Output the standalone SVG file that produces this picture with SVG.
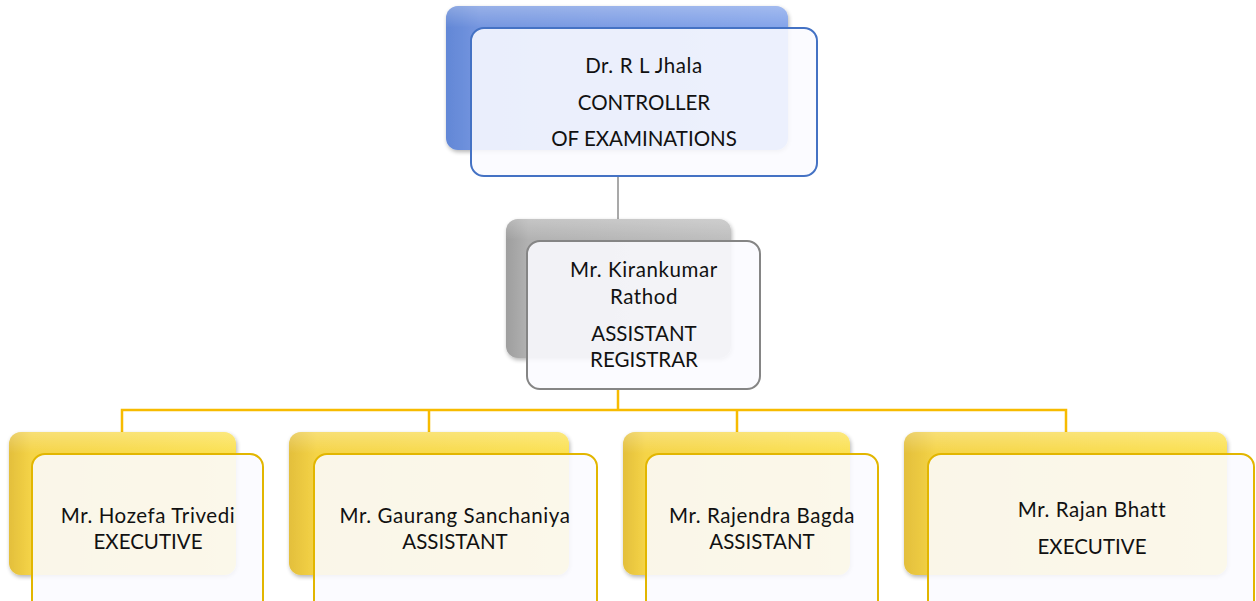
<svg xmlns="http://www.w3.org/2000/svg" width="1256" height="601" viewBox="0 0 1256 601">
<defs>
<linearGradient id="gBlue" x1="0" y1="0" x2="1" y2="0">
<stop offset="0" stop-color="#6287d6"/><stop offset="0.1" stop-color="#7596e0"/><stop offset="1" stop-color="#84a4ea"/>
</linearGradient>
<linearGradient id="gGray" x1="0" y1="0" x2="1" y2="0">
<stop offset="0" stop-color="#9e9e9e"/><stop offset="0.1" stop-color="#b2b2b2"/><stop offset="1" stop-color="#bebebe"/>
</linearGradient>
<linearGradient id="gYel" x1="0" y1="0" x2="1" y2="0">
<stop offset="0" stop-color="#e3bf3c"/><stop offset="0.1" stop-color="#f5d447"/><stop offset="1" stop-color="#fbe152"/>
</linearGradient>
<linearGradient id="gTop" x1="0" y1="0" x2="0" y2="1">
<stop offset="0" stop-color="#ffffff" stop-opacity="0.25"/><stop offset="0.15" stop-color="#ffffff" stop-opacity="0"/>
</linearGradient>
<filter id="sh" x="-10%" y="-10%" width="120%" height="130%">
<feGaussianBlur in="SourceAlpha" stdDeviation="2"/><feOffset dx="1" dy="2"/>
<feComponentTransfer><feFuncA type="linear" slope="0.3"/></feComponentTransfer>
<feMerge><feMergeNode/><feMergeNode in="SourceGraphic"/></feMerge>
</filter>
</defs>
<style>
.txt{font-family:Lato,"Open Sans","Liberation Sans",sans-serif;font-size:20.5px;fill:#111;text-anchor:middle}
.nm{letter-spacing:0.6px}
.hl{fill:url(#gTop)}
.front{fill:#fbfaff;fill-opacity:0.88;stroke-width:2}
.fb{stroke:#4472c4}
.fg{stroke:#858585}
.fy{stroke:#e2b600}
.conn-g{stroke:#a9a9a9;stroke-width:2;fill:none}
.conn-y{stroke:#f7bb00;stroke-width:2.5;fill:none}
</style>
<g id="connectors">
<path class="conn-g" d="M618 177 V240"/>
<path class="conn-y" d="M618 390 V410 M122 432 V410 H1066 V432 M429 410 V432 M737 410 V432"/>
</g>
<g id="n-controller">
<rect x="446" y="6" width="342" height="144" rx="12" fill="url(#gBlue)" filter="url(#sh)"/>
<rect x="446" y="6" width="342" height="144" rx="12" class="hl"/>
<rect x="471" y="28" width="346" height="148" rx="13" class="front fb"/>
<text class="txt nm" x="644" y="73">Dr. R L Jhala</text>
<text class="txt" x="644" y="110">CONTROLLER</text>
<text class="txt" x="644" y="146">OF EXAMINATIONS</text>
</g>
<g id="n-registrar">
<rect x="506" y="219" width="225" height="139" rx="12" fill="url(#gGray)" filter="url(#sh)"/>
<rect x="506" y="219" width="225" height="139" rx="12" class="hl"/>
<rect x="527" y="241" width="233" height="148" rx="13" class="front fg"/>
<text class="txt nm" x="644" y="277">Mr. Kirankumar</text>
<text class="txt nm" x="644" y="304">Rathod</text>
<text class="txt" x="644" y="341">ASSISTANT</text>
<text class="txt" x="644" y="367">REGISTRAR</text>
</g>
<g id="n-hozefa">
<rect x="9" y="432" width="227" height="143" rx="12" fill="url(#gYel)" filter="url(#sh)"/>
<rect x="9" y="432" width="227" height="143" rx="12" class="hl"/>
<rect x="32" y="454" width="231" height="160" rx="13" class="front fy"/>
<text class="txt nm" x="148" y="523">Mr. Hozefa Trivedi</text>
<text class="txt" x="148" y="549">EXECUTIVE</text>
</g>
<g id="n-gaurang">
<rect x="289" y="432" width="280" height="143" rx="12" fill="url(#gYel)" filter="url(#sh)"/>
<rect x="289" y="432" width="280" height="143" rx="12" class="hl"/>
<rect x="314" y="454" width="283" height="160" rx="13" class="front fy"/>
<text class="txt nm" x="455" y="523">Mr. Gaurang Sanchaniya</text>
<text class="txt" x="455" y="549">ASSISTANT</text>
</g>
<g id="n-rajendra">
<rect x="623" y="432" width="227" height="143" rx="12" fill="url(#gYel)" filter="url(#sh)"/>
<rect x="623" y="432" width="227" height="143" rx="12" class="hl"/>
<rect x="646" y="454" width="232" height="160" rx="13" class="front fy"/>
<text class="txt nm" x="762" y="523">Mr. Rajendra Bagda</text>
<text class="txt" x="762" y="549">ASSISTANT</text>
</g>
<g id="n-rajan">
<rect x="904" y="432" width="323" height="143" rx="12" fill="url(#gYel)" filter="url(#sh)"/>
<rect x="904" y="432" width="323" height="143" rx="12" class="hl"/>
<rect x="928" y="454" width="326" height="160" rx="13" class="front fy"/>
<text class="txt nm" x="1092" y="517">Mr. Rajan Bhatt</text>
<text class="txt" x="1092" y="554">EXECUTIVE</text>
</g>
</svg>
